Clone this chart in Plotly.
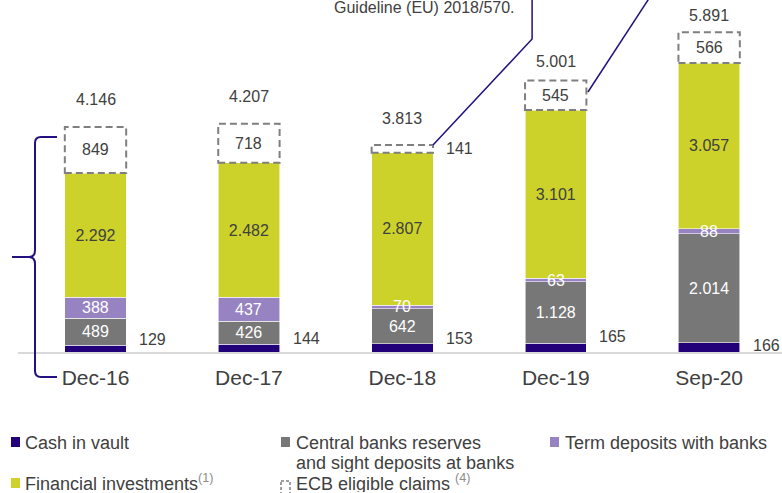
import plotly.graph_objects as go

# ---------------- data ----------------
categories = ["Dec-16", "Dec-17", "Dec-18", "Dec-19", "Sep-20"]
cash_in_vault = [129, 144, 153, 165, 166]
central_banks = [489, 426, 642, 1128, 2014]
term_deposits = [388, 437, 70, 63, 88]
financial_investments = [2292, 2482, 2807, 3101, 3057]
ecb_claims = [849, 718, 141, 545, 566]
totals = [4146, 4207, 3813, 5001, 5891]
series_names = ["Cash in vault", "Central banks reserves", "and sight deposits at banks",
                "Term deposits with banks", "Financial investments", "ECB eligible claims"]
note_text = "Guideline (EU) 2018/570."

# ---------------- style ----------------
FONT = "Liberation Sans, Arial, sans-serif"
TXT = "#404040"
C_CASH = "#22007A"
C_CB = "#777777"
C_TERM = "#9782C2"
C_FIN = "#CDD22B"
C_ECB = "#7F7F7F"
C_NAVY = "#24107E"

W, H = 782, 493
L, R, T, B = 18, 0, 0, 141
PW, PH = W - L - R, H - T - B
BAR_W = 0.4


def px(x):
    return (x - L) / PW


def py(y):
    return (H - B - y) / PH


def fmt(v):
    return f"{v:,}".replace(",", ".")


n = len(categories)
idx = list(range(n))
base_term = [cash_in_vault[i] + central_banks[i] for i in idx]
base_ecb = [cash_in_vault[i] + central_banks[i] + term_deposits[i] + financial_investments[i] for i in idx]

fig = go.Figure()

bar_common = dict(width=BAR_W, marker_line=dict(color="rgba(255,255,255,0.7)", width=0.8),
                  showlegend=False)
txt_common = dict(textposition="inside", insidetextanchor="middle", textangle=0)

fig.add_trace(go.Bar(x=idx, y=cash_in_vault, name="Cash in vault", marker_color=C_CASH,
                     textposition="none", **bar_common))
fig.add_trace(go.Bar(x=idx, y=central_banks, name="Central banks reserves and sight deposits at banks",
                     marker_color=C_CB, texttemplate="%{y:,.0f}",
                     textfont=dict(color="white", size=16, family=FONT), **txt_common, **bar_common))
fig.add_trace(go.Bar(x=idx, y=term_deposits, name="Term deposits with banks",
                     marker_color=C_TERM, textposition="none", **bar_common))
fig.add_trace(go.Bar(x=idx, y=financial_investments, name="Financial investments",
                     marker_color=C_FIN, texttemplate="%{y:,.0f}",
                     textfont=dict(color=TXT, size=16, family=FONT), **txt_common, **bar_common))
fig.add_trace(go.Bar(x=idx, y=ecb_claims, name="ECB eligible claims",
                     marker_color="rgba(0,0,0,0)", width=BAR_W, textposition="none",
                     marker_line=dict(width=0), showlegend=False))

shapes = []
annotations = []

# term deposit labels (drawn on top so thin segments still show them)
for i in idx:
    annotations.append(dict(x=i, y=base_term[i] + term_deposits[i] / 2, xref="x", yref="y",
                            text=fmt(term_deposits[i]), showarrow=False, yanchor="middle",
                            font=dict(size=16, color="white", family=FONT)))

# dashed boxes for ECB claims
for i in idx:
    shapes.append(dict(type="rect", xref="x", yref="y",
                       x0=i - BAR_W / 2, x1=i + BAR_W / 2,
                       y0=base_ecb[i], y1=base_ecb[i] + ecb_claims[i],
                       line=dict(color=C_ECB, width=2, dash="7px,4px"),
                       fillcolor="rgba(0,0,0,0)", layer="above"))
    if ecb_claims[i] >= 300:
        annotations.append(dict(x=i, y=base_ecb[i] + ecb_claims[i] / 2, xref="x", yref="y",
                                text=fmt(ecb_claims[i]), showarrow=False,
                                font=dict(size=16, color=TXT, family=FONT)))
    else:
        annotations.append(dict(x=i + BAR_W / 2, y=base_ecb[i] + ecb_claims[i] / 2, xref="x", yref="y",
                                text=fmt(ecb_claims[i]), showarrow=False, xanchor="left", xshift=11,
                                font=dict(size=16, color=TXT, family=FONT)))

# cash labels (outside right)
cash_yshift = [13, 14, 14, 16, 7]
for i in idx:
    annotations.append(dict(x=i + BAR_W / 2, y=0, xref="x", yref="y", text=fmt(cash_in_vault[i]),
                            showarrow=False, xanchor="left", yanchor="middle", xshift=11,
                            yshift=cash_yshift[i], font=dict(size=16, color=TXT, family=FONT)))

# totals
tot_yshift = [27, 27, 27, 19, 17]
for i in idx:
    annotations.append(dict(x=i, y=base_ecb[i] + ecb_claims[i], xref="x", yref="y",
                            text=fmt(totals[i]), showarrow=False, yanchor="middle",
                            yshift=tot_yshift[i], font=dict(size=16, color=TXT, family=FONT)))

# callout lines
shapes.append(dict(type="path", xref="x", yref="y",
                   path=f"M {2 + BAR_W / 2},{base_ecb[2] + ecb_claims[2]} L 2.846,5767 L 2.846,6600",
                   line=dict(color=C_NAVY, width=1.5)))
shapes.append(dict(type="path", xref="x", yref="y",
                   path=f"M {3 + BAR_W / 2 + 0.01},4791 L 3.628,6600",
                   line=dict(color=C_NAVY, width=1.5)))

annotations.append(dict(x=px(517), y=py(7), xref="paper", yref="paper", text=note_text,
                        showarrow=False, xanchor="right", yanchor="middle",
                        font=dict(size=16, color=TXT, family=FONT)))

# left brace
pts = ("M{a},{b} L{c},{b} Q{d},{b} {d},{e} L{d},{f} Q{d},{g} {h},{g} L{i},{g} L{h},{g} "
       "Q{d},{g} {d},{j} L{d},{k} Q{d},{l} {c},{l} L{a},{l}")
brace = pts.format(a=px(57), b=py(137), c=px(41), d=px(35), e=py(143), f=py(250), g=py(257),
                   h=px(29), i=px(12), j=py(264), k=py(371), l=py(377))
shapes.append(dict(type="path", xref="paper", yref="paper", path=brace,
                   line=dict(color=C_NAVY, width=2)))

# manual legend
LEG_FONT = dict(size=18, color=TXT, family=FONT)
leg_txt = dict(xref="paper", yref="paper", showarrow=False, xanchor="left", yanchor="middle",
               height=19, borderpad=0, valign="middle", font=LEG_FONT)
leg = [
    (11, 437, C_CASH, 24, 442, series_names[0]),
    (281, 437, C_CB, 295, 442, series_names[1]),
    (550, 437, C_TERM, 564, 442, series_names[3]),
    (11, 478, C_FIN, 24, 482, series_names[4] + "<sup><span style='color:#8c8c8c'>(1)</span></sup>"),
]
for sx, sy, col, tx, ty, label in leg:
    shapes.append(dict(type="rect", xref="paper", yref="paper", x0=px(sx), x1=px(sx + 9),
                       y0=py(sy), y1=py(sy + 10), fillcolor=col, line=dict(width=0)))
    annotations.append(dict(x=px(tx), y=py(ty), text=label, **leg_txt))
annotations.append(dict(x=px(295), y=py(462), text=series_names[2], **leg_txt))
shapes.append(dict(type="rect", xref="paper", yref="paper", x0=px(281), x1=px(290),
                   y0=py(481), y1=py(494), fillcolor="rgba(0,0,0,0)",
                   line=dict(color=C_ECB, width=1.5, dash="3px,2px")))
annotations.append(dict(x=px(295), y=py(482),
                        text=series_names[5] + " <sup><span style='color:#8c8c8c'>(4)</span></sup>",
                        **leg_txt))

fig.update_layout(
    barmode="stack",
    width=W, height=H, autosize=False,
    margin=dict(l=L, r=R, t=T, b=B, pad=0),
    paper_bgcolor="white", plot_bgcolor="white",
    separators=",.",
    uniformtext=dict(minsize=16, mode="show"),
    font=dict(family=FONT, color=TXT),
    xaxis=dict(tickmode="array", tickvals=idx, ticktext=categories,
               range=[-0.5052, 4.475], showgrid=False, zeroline=False,
               showline=True, linecolor="#D9D9D9", linewidth=2, ticks="",
               tickfont=dict(size=21, color=TXT, family=FONT), ticklabelstandoff=6),
    yaxis=dict(range=[0, 6486], visible=False, showgrid=False, zeroline=False),
    shapes=shapes,
    annotations=annotations,
)

fig.write_html("out.html", config={"displayModeBar": False},
               post_script="document.body.style.margin='0';document.body.style.overflow='hidden';")
